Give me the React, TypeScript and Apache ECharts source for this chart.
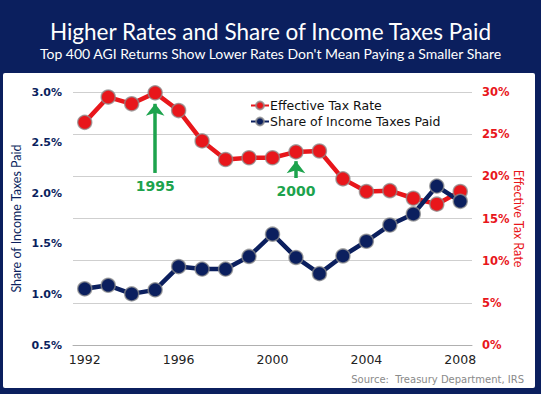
import React, { useEffect, useRef } from "react";
import * as echarts from "echarts";

const years = ["1992","1993","1994","1995","1996","1997","1998","1999","2000","2001","2002","2003","2004","2005","2006","2007","2008"];
const effectiveRate = [26.4, 29.4, 28.6, 29.9, 27.8, 24.2, 22.0, 22.2, 22.2, 22.9, 23.0, 19.7, 18.2, 18.3, 17.4, 16.7, 18.2];
const shareOfTaxes = [1.055, 1.09, 1.005, 1.045, 1.275, 1.25, 1.25, 1.375, 1.595, 1.365, 1.205, 1.38, 1.525, 1.685, 1.795, 2.07, 1.92];
const annotationYears = ["1995", "2001"];
const annotationLabels = ["1995", "2000"];
const arrowFrom = [20.4, 19.8];
const arrowTo = [28.6, 21.8];

const NAVY = "#0b1f5e";
const RED = "#e8161b";
const GREEN = "#1da34d";
const FONT = "DejaVu Sans";
const TITLE_FONT = "Lato";

export default function App() {
  const ref = useRef<HTMLDivElement>(null);
  useEffect(() => {
    if (!ref.current) return;
    const chart = echarts.init(ref.current, undefined, { renderer: "svg" });
    chart.setOption({
      animation: false,
      backgroundColor: NAVY,
      textStyle: { fontFamily: FONT },
      title: [
        {
          text: "Higher Rates and Share of Income Taxes Paid",
          left: "center",
          top: 19,
          padding: 0,
          textStyle: { color: "#ffffff", fontSize: 22.5, lineHeight: 24, fontWeight: "normal", fontFamily: TITLE_FONT },
        },
        {
          text: "Top 400 AGI Returns Show Lower Rates Don't Mean Paying a Smaller Share",
          left: "center",
          top: 45,
          padding: 0,
          textStyle: { color: "#ffffff", fontSize: 14, lineHeight: 16, fontWeight: "normal", fontFamily: TITLE_FONT },
        },
      ],
      graphic: [
        {
          type: "rect",
          z: -10,
          shape: { x: 3, y: 73, width: 532, height: 315, r: 2 },
          style: { fill: "#ffffff" },
        },
        {
          type: "text",
          right: 17,
          top: 374,
          style: { text: "Source:  Treasury Department, IRS", fill: "#8a8a8a", font: `10px "${FONT}"` },
        },
      ],
      legend: {
        left: 245,
        top: 94,
        orient: "vertical",
        itemWidth: 18,
        itemHeight: 10,
        itemGap: 3,
        textStyle: { color: "#111", fontSize: 12.5, fontFamily: FONT, padding: [0, 0, 0, -4] },
        data: ["Effective Tax Rate", "Share of Income Taxes Paid"],
      },
      grid: { left: 73, right: 69, top: 92, bottom: 49, containLabel: false },
      xAxis: {
        type: "category",
        data: years,
        boundaryGap: true,
        axisLine: { lineStyle: { color: "#b0b0b0" } },
        axisTick: { interval: 0, length: 4, lineStyle: { color: "#b0b0b0" } },
        axisLabel: { interval: 3, color: "#222", fontSize: 12.5, margin: 8, fontFamily: FONT },
      },
      yAxis: [
        {
          type: "value",
          min: 0.5,
          max: 3.0,
          interval: 0.5,
          position: "left",
          name: "Share of Income Taxes Paid",
          nameLocation: "middle",
          nameRotate: 90,
          nameGap: 50,
          nameMoveOverlap: false,
          nameTextStyle: { color: NAVY, fontSize: 12.5, fontFamily: TITLE_FONT },
          axisLine: { show: false },
          axisTick: { show: false },
          splitLine: { show: false },
          axisLabel: {
            color: NAVY,
            fontWeight: "bold",
            fontSize: 11,
            margin: 11,
            fontFamily: FONT,
            formatter: (v: number) => v.toFixed(1) + "%",
          },
        },
        {
          type: "value",
          min: 0,
          max: 30,
          interval: 5,
          position: "right",
          name: "Effective Tax Rate",
          nameLocation: "middle",
          nameRotate: -90,
          nameGap: 40,
          nameMoveOverlap: false,
          nameTextStyle: { color: RED, fontSize: 12.5, fontFamily: TITLE_FONT },
          axisLine: { show: false },
          axisTick: { show: false },
          splitLine: { show: true, lineStyle: { color: "#cfcfcf", width: 1 } },
          axisLabel: {
            color: RED,
            fontWeight: "bold",
            fontSize: 11.5,
            margin: 10,
            fontFamily: FONT,
            formatter: (v: number) => v + "%",
          },
        },
      ],
      series: [
        {
          name: "Effective Tax Rate",
          type: "line",
          yAxisIndex: 1,
          data: effectiveRate,
          symbol: "circle",
          symbolSize: 14,
          lineStyle: { color: RED, width: 4.5 },
          itemStyle: { color: RED, borderColor: "rgba(140,140,140,0.75)", borderWidth: 1.5 },
          markLine: {
            silent: true,
            symbol: ["none", "arrow"],
            symbolSize: [14, 12],
            lineStyle: { color: GREEN, width: 3.5, type: "solid" },
            label: {
              show: true,
              position: "start",
              distance: 6,
              color: GREEN,
              fontWeight: "bold",
              fontSize: 14,
              fontFamily: FONT,
            },
            data: annotationYears.map((y, i) => [
              { coord: [y, arrowFrom[i]], label: { formatter: annotationLabels[i] }, itemStyle: { color: GREEN } },
              { coord: [y, arrowTo[i]], itemStyle: { color: GREEN } },
            ]),
          },
        },
        {
          name: "Share of Income Taxes Paid",
          type: "line",
          yAxisIndex: 0,
          data: shareOfTaxes,
          symbol: "circle",
          symbolSize: 14,
          lineStyle: { color: NAVY, width: 4.5 },
          itemStyle: { color: NAVY, borderColor: "rgba(140,140,140,0.75)", borderWidth: 1.5 },
        },
      ],
    });
    return () => chart.dispose();
  }, []);
  return <div ref={ref} style={{ position: "fixed", left: 0, top: 0, width: 541, height: 394 }} />;
}
